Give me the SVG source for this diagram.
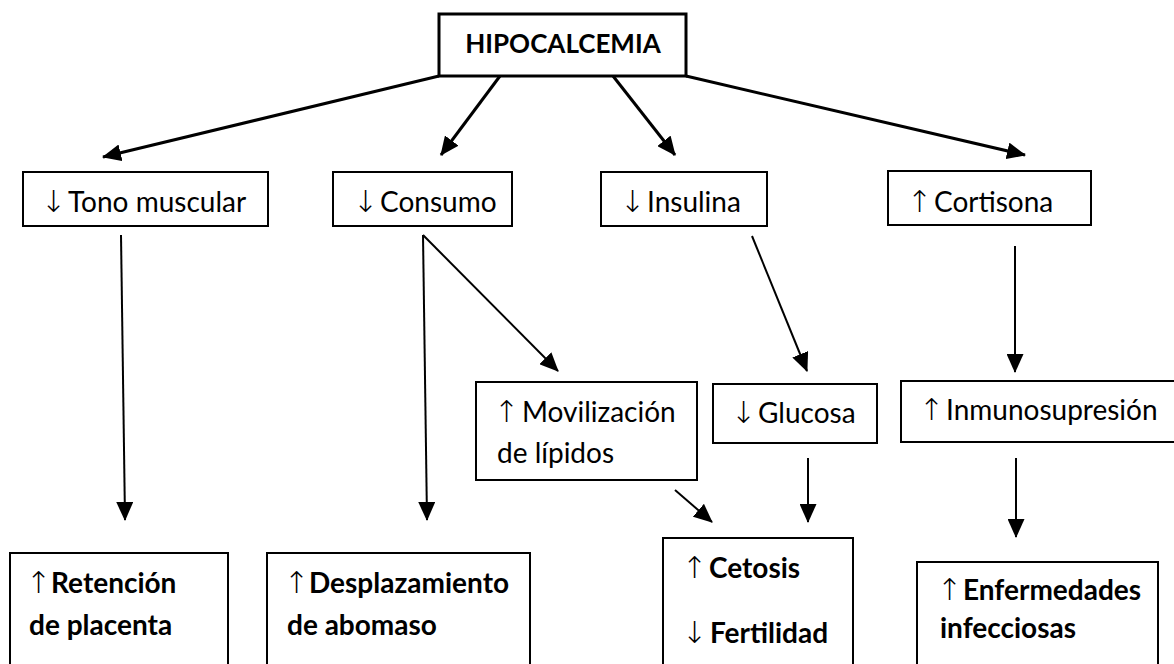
<svg xmlns="http://www.w3.org/2000/svg" width="1174" height="664" viewBox="0 0 1174 664">
<style>
.bx{fill:#fff;stroke:#000;stroke-width:2}
.bx3{fill:#fff;stroke:#000;stroke-width:3}
.t{font-family:Lato,"Liberation Sans",sans-serif;font-size:28px;fill:#000}
.b{font-weight:bold}
.ar{font-family:"DejaVu Sans",sans-serif;font-weight:200;font-size:30px}
.c3{stroke:#000;stroke-width:3;fill:none;marker-end:url(#ah)}
.c2{stroke:#000;stroke-width:2;fill:none;marker-end:url(#ah)}
</style>
<defs>
<marker id="ah" viewBox="0 0 19 17" refX="18" refY="8.5" markerWidth="19" markerHeight="17" markerUnits="userSpaceOnUse" orient="auto">
<path d="M0,0 L19,8.5 L0,17 Z" fill="#000"/>
</marker>
</defs>
<rect width="1174" height="664" fill="#fff"/>
<g id="connectors">
<line class="c3" x1="439" y1="76" x2="103" y2="157"/>
<line class="c3" x1="500" y1="76" x2="441" y2="155"/>
<line class="c3" x1="613" y1="76" x2="675" y2="155"/>
<line class="c3" x1="686" y1="76" x2="1025" y2="155"/>
<line class="c2" x1="121" y1="235" x2="125" y2="520"/>
<line class="c2" x1="423" y1="235" x2="427" y2="520"/>
<line class="c2" x1="423" y1="235" x2="558" y2="371"/>
<line class="c2" x1="752" y1="236" x2="807" y2="371"/>
<line class="c2" x1="1015" y1="246" x2="1015" y2="372"/>
<line class="c2" x1="808" y1="458" x2="808" y2="522"/>
<line class="c2" x1="675" y1="490" x2="712" y2="522"/>
<line class="c2" x1="1016" y1="458" x2="1016" y2="537"/>
</g>
<g id="hipocalcemia">
<rect class="bx3" x="439" y="14" width="247" height="62"/>
<text class="t b" x="563" y="53" text-anchor="middle" style="font-size:26px">HIPOCALCEMIA</text>
</g>
<g id="tono">
<rect class="bx" x="23" y="172" width="245" height="54"/>
<text class="t" x="41" y="212"><tspan class="ar">↓</tspan><tspan x="68">Tono muscular</tspan></text>
</g>
<g id="consumo">
<rect class="bx" x="333" y="172" width="179" height="54"/>
<text class="t" x="353" y="212"><tspan class="ar">↓</tspan><tspan x="380">Consumo</tspan></text>
</g>
<g id="insulina">
<rect class="bx" x="601" y="172" width="166" height="54"/>
<text class="t" x="620" y="212"><tspan class="ar">↓</tspan><tspan x="647">Insulina</tspan></text>
</g>
<g id="cortisona">
<rect class="bx" x="888" y="171" width="203" height="54"/>
<text class="t" x="907" y="212"><tspan class="ar">↑</tspan><tspan x="934">Cortisona</tspan></text>
</g>
<g id="movilizacion">
<rect class="bx" x="476" y="382" width="221" height="98"/>
<text class="t" x="494" y="422"><tspan class="ar">↑</tspan><tspan x="522">Movilización</tspan></text>
<text class="t" x="497" y="463">de lípidos</text>
</g>
<g id="glucosa">
<rect class="bx" x="713" y="384" width="164" height="59"/>
<text class="t" x="731" y="423"><tspan class="ar">↓</tspan><tspan x="758">Glucosa</tspan></text>
</g>
<g id="inmunosupresion">
<rect class="bx" x="901" y="381" width="285" height="61"/>
<text class="t" x="919" y="420"><tspan class="ar">↑</tspan><tspan x="946">Inmunosupresión</tspan></text>
</g>
<g id="retencion">
<rect class="bx" x="10" y="553" width="218" height="130"/>
<text class="t b" x="26" y="593"><tspan class="ar">↑</tspan><tspan x="51">Retención</tspan></text>
<text class="t b" x="29" y="635">de placenta</text>
</g>
<g id="desplazamiento">
<rect class="bx" x="267" y="553" width="263" height="130"/>
<text class="t b" x="284" y="593"><tspan class="ar">↑</tspan><tspan x="309">Desplazamiento</tspan></text>
<text class="t b" x="287" y="635">de abomaso</text>
</g>
<g id="cetosis">
<rect class="bx" x="663" y="538" width="190" height="145"/>
<text class="t b" x="682" y="578"><tspan class="ar">↑</tspan><tspan x="709">Cetosis</tspan></text>
<text class="t b" x="682" y="643"><tspan class="ar">↓</tspan><tspan x="710">Fertilidad</tspan></text>
</g>
<g id="enfermedades">
<rect class="bx" x="917" y="562" width="241" height="121"/>
<text class="t b" x="937" y="600"><tspan class="ar">↑</tspan><tspan x="963">Enfermedades</tspan></text>
<text class="t b" x="940" y="638">infecciosas</text>
</g>
</svg>
